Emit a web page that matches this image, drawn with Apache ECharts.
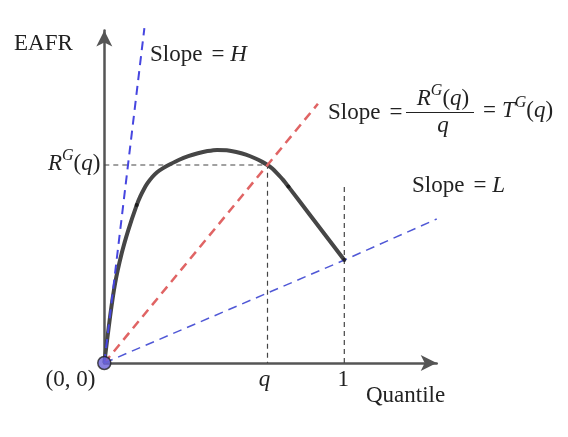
<!DOCTYPE html>
<html>
<head>
<meta charset="utf-8">
<script src="https://cdn.jsdelivr.net/npm/echarts@6/dist/echarts.min.js"></script>
<style>
  html, body { margin: 0; padding: 0; background: #fff; }
  #chart { width: 568px; height: 437px; }
</style>
</head>
<body>
<div id="chart"></div>
<script>
// EAFR curve (quantile, EAFR)
const curve = [
  [0, 0], [0.024, 0.193], [0.045, 0.332], [0.0725, 0.457], [0.1, 0.554],
  [0.135, 0.658], [0.15, 0.694], [0.165, 0.724], [0.18, 0.749], [0.2, 0.775],
  [0.22, 0.795], [0.245, 0.812], [0.274, 0.828], [0.31, 0.846], [0.35, 0.862],
  [0.39, 0.874], [0.43, 0.883], [0.47, 0.888], [0.51, 0.886], [0.55, 0.879],
  [0.59, 0.868], [0.63, 0.852], [0.66, 0.837], [0.68, 0.825], [0.70, 0.81],
  [0.72, 0.79], [0.745, 0.763], [0.767, 0.735], [0.857, 0.617], [1, 0.429]
]
const curveDots = [[0.135, 0.658], [0.767, 0.735], [1, 0.429]]
const origin = [[0, 0]]
const qValue = 0.68
const rgq = 0.825
const oneTop = 0.742
const lineH = [[0, 0], [0.167, 1.395]]
const lineT = [[0, 0], [0.89, 1.08]]
const lineL = [[0, 0], [1, 0.429], [1.385, 0.6]]
const guideQ = [[0, rgq], [qValue, rgq], [qValue, 0]]
const guideOne = [[1, 0], [1, oneTop]]
const tickValues = [qValue, 1]
const tickLabels = ['{it|q}', '{n|1}']

const SERIF = '"Liberation Serif", "DejaVu Serif", serif'
const INK = '#222'
const FS = 23

const chart = echarts.init(document.getElementById('chart'), null, { renderer: 'canvas' })

const axisCommon = {
  type: 'value',
  min: 0,
  max: 1.385,
  axisLine: {
    show: true,
    lineStyle: { color: '#555', width: 2.5 },
    symbol: ['none', 'arrow'],
    symbolSize: [12, 16],
  },
  axisTick: { show: false },
  axisLabel: { show: false },
  splitLine: { show: false },
}

const dashed = (data, color, width, dash) => ({
  type: 'line',
  data,
  symbol: 'none',
  clip: false,
  silent: true,
  lineStyle: { color, width, type: dash },
})

chart.setOption({
  animation: false,
  backgroundColor: '#fff',
  grid: { left: 104.3, right: 131.3, top: 30.6, bottom: 74 },
  xAxis: axisCommon,
  yAxis: axisCommon,
  series: [
    {
      type: 'line',
      data: curve,
      smooth: 0.2,
      symbol: 'none',
      lineStyle: { color: '#464646', width: 4 },
      z: 2,
    },
    dashed(guideQ, '#444', 1.2, [5, 4]),
    dashed(guideOne, '#444', 1.2, [5, 4]),
    dashed(lineT, '#e06464', 2.5, [9, 6]),
    dashed(lineH, '#4646e0', 2, [9, 6]),
    dashed(lineL, '#5058d6', 1.5, [9, 6]),
    {
      type: 'scatter',
      data: curveDots,
      symbolSize: 4,
      itemStyle: { color: '#111' },
      z: 4,
    },
    {
      type: 'scatter',
      data: origin,
      symbolSize: 13,
      itemStyle: { color: '#6a62da', borderColor: '#222', borderWidth: 1.5 },
      z: 5,
    },
  ],
})

const px = (p) => chart.convertToPixel({ gridIndex: 0 }, p)
const rich = {
  n: { fontFamily: SERIF, fontSize: FS, color: INK, lineHeight: 32 },
  it: { fontFamily: SERIF, fontSize: FS, fontStyle: 'italic', color: INK, lineHeight: 32 },
  sup: { fontFamily: SERIF, fontSize: 16, fontStyle: 'italic', color: INK, lineHeight: 16, verticalAlign: 'top' },
  eq: { fontFamily: SERIF, fontSize: FS, color: INK, lineHeight: 32, padding: [0, 6, 0, 9] },
}
const label = (x, y, text, align = 'left') => ({
  type: 'text',
  x, y,
  silent: true,
  style: { text, rich, align, verticalAlign: 'middle', font: FS + 'px ' + SERIF, fill: INK },
})

const o = px([0, 0])
const r = px([0, rgq])
const tickShift = [-3, -1]
const ticks = tickValues.map((v, i) => {
  const p = px([v, 0])
  return label(p[0] + tickShift[i], 380, tickLabels[i], 'center')
})
const fracX = 443

chart.setOption({
  graphic: [
    label(14, 44, '{n|EAFR}'),
    label(150, 55, '{n|Slope}{eq|=}{it|H}'),
    label(r[0] - 4, r[1] - 1, '{it|R}{sup|G}{n|(}{it|q}{n|)}', 'right'),
    label(328, 113, '{n|Slope}{eq|=}'),
    label(fracX, 99, '{it|R}{sup|G}{n|(}{it|q}{n|)}', 'center'),
    {
      type: 'line',
      silent: true,
      shape: { x1: 406, y1: 112.5, x2: 474, y2: 112.5 },
      style: { stroke: INK, lineWidth: 1 },
    },
    label(fracX, 126, '{it|q}', 'center'),
    label(474, 111, '{eq|=}{it|T}{sup|G}{n|(}{it|q}{n|)}'),
    label(412, 186, '{n|Slope}{eq|=}{it|L}'),
    label(o[0] - 9, o[1] + 17, '{n|(0, 0)}', 'right'),
    ...ticks,
    label(366, 396, '{n|Quantile}'),
  ],
})
</script>
</body>
</html>
